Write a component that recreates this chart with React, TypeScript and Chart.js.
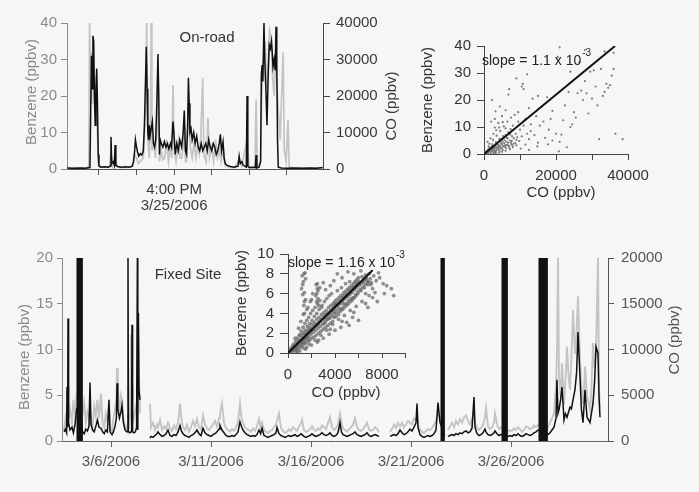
import React, { useEffect, useRef } from 'react';
import { Chart, registerables } from 'chart.js';
Chart.register(...registerables);

const FONT = '"Liberation Sans", Arial, Helvetica, sans-serif';
const BG = '#f6f6f6';
const GREY_TXT = '#8a8a8a';
const DARK_TXT = '#3a3a3a';
const BLACK_LINE = '#111111';
const GREY_LINE = '#c4c4c4';

// ---------------- On-road time series (minutes after 3:00 PM) ----------------
const roadBenzT = [31.5, 33, 35, 36.5, 37.6, 37.8, 38.0, 38.2, 38.4, 38.6, 38.8, 39.0, 39.2, 39.4, 39.6, 39.8, 40.0, 40.5, 41.5, 42.5, 43.0, 43.2, 43.4, 43.8, 44.1, 44.3, 44.5, 45.0, 46.0, 47.0, 48.0, 48.8, 49.2, 49.5, 49.7, 50.0, 50.3, 50.6, 51.0, 51.4, 51.8, 52.1, 52.4, 52.6, 52.8, 53.0, 53.2, 53.4, 53.6, 53.9, 54.2, 54.5, 54.8, 55.1, 55.4, 55.7, 55.9, 56.1, 56.3, 56.6, 57.0, 57.4, 57.8, 58.2, 58.6, 59.0, 59.3, 59.7, 60.0, 60.3, 60.7, 61.1, 61.5, 62.0, 62.4, 62.7, 63.0, 63.3, 63.6, 63.8, 64.0, 64.2, 64.5, 64.8, 65.2, 65.6, 66.0, 66.4, 66.8, 67.2, 67.6, 68.0, 68.4, 68.8, 69.2, 69.6, 70.0, 70.4, 70.8, 71.2, 71.6, 72.0, 72.3, 72.6, 73.0, 73.3, 73.6, 74.1, 75.0, 76.0, 77.0, 77.3, 77.6, 78.0, 78.4, 79.2, 79.4, 79.6, 80.0, 81.0, 81.6, 81.8, 82.0, 82.6, 83.0, 83.2, 83.4, 83.6, 83.9, 84.1, 84.4, 84.7, 85.0, 85.3, 85.6, 85.9, 86.1, 86.3, 86.6, 86.9, 87.1, 87.3, 87.5, 87.7, 88.5, 90, 92, 94, 96, 98, 99.5];
const roadBenz = [0.3, 0.2, 0.3, 0.2, 0.4, 15, 31, 22, 36.5, 35, 20, 12, 22, 27.5, 18, 4, 0.8, 0.5, 0.6, 0.5, 0.8, 8.8, 1.5, 2.0, 1.0, 6.6, 1.0, 0.7, 0.5, 0.6, 0.5, 0.7, 2.0, 5.0, 8.0, 6.0, 4.5, 3.5, 4.2, 3.8, 5.0, 12, 25, 33.5, 22, 10, 8, 12, 9, 11, 13, 7, 6, 8, 18, 31.5, 20, 4, 8, 7, 6, 7.5, 6, 7, 5.5, 7, 6, 13, 9, 4, 7, 5, 8, 6, 10, 16, 5, 4, 12, 25, 18, 10, 11, 8, 10, 7, 9, 6, 5, 7, 5, 6, 7, 5, 8, 6, 5, 7, 6, 4, 5, 7, 9.5, 5, 7.5, 3, 1.5, 1.0, 0.7, 0.5, 0.8, 3.5, 1.5, 2.0, 1.0, 0.5, 20, 0.8, 0.4, 0.5, 0.4, 3.8, 0.3, 0.5, 2.0, 26, 28.5, 24, 40, 30, 22, 12, 25, 34, 33, 35, 32, 28, 30, 27, 39, 29, 8, 0.5, 0.3, 0.2, 0.3, 0.2, 0.3, 0.2, 0.4];
const roadCOT = [31.5, 36.5, 37.3, 37.5, 37.7, 37.9, 38.1, 38.4, 38.7, 39.0, 39.3, 39.6, 39.9, 41, 42.8, 43.2, 43.6, 44.3, 44.7, 46, 48, 49, 49.5, 50, 50.5, 51, 51.8, 52.3, 52.7, 53.0, 53.4, 53.7, 53.9, 54.1, 54.5, 55.0, 55.5, 55.8, 56.1, 56.6, 57.0, 57.5, 58.0, 58.5, 59.0, 59.4, 59.7, 60.0, 60.5, 61.2, 61.6, 62.0, 62.4, 62.7, 63.0, 63.3, 63.8, 64.3, 64.8, 65.3, 65.8, 66.2, 66.7, 67.1, 67.6, 67.9, 68.5, 69.0, 69.4, 70.0, 70.5, 71.0, 71.5, 72.0, 72.5, 73.0, 73.5, 74.5, 76, 77.3, 78, 79.4, 80, 81.5, 81.8, 82.1, 83, 83.3, 83.8, 84.2, 84.6, 85.0, 85.4, 85.8, 86.2, 86.6, 87.0, 87.4, 87.8, 88.2, 89.0, 89.3, 89.8, 90.3, 90.6, 92, 95, 99.5];
const roadCO = [200, 300, 500, 40000, 30000, 18000, 32000, 30000, 20000, 15000, 25000, 10000, 1000, 500, 600, 5000, 800, 4000, 600, 400, 500, 800, 4000, 3000, 1500, 2000, 3000, 15000, 40000, 8000, 3000, 15000, 40000, 5000, 8000, 3000, 12000, 25000, 2000, 5000, 2500, 3000, 8000, 2000, 6000, 3000, 23000, 5000, 2000, 8000, 3000, 3000, 6000, 12000, 2000, 2000, 18000, 6000, 3000, 7000, 3000, 6000, 4000, 9000, 25000, 4000, 2000, 14000, 3000, 6000, 2000, 8000, 3000, 5000, 2000, 6000, 1000, 500, 300, 2500, 800, 8000, 300, 400, 19000, 400, 2000, 20000, 30000, 35000, 22000, 30000, 38000, 36000, 25000, 20000, 33000, 22000, 15000, 8000, 32000, 5000, 2000, 13500, 500, 300, 200, 300];
const roadTickValues = [40, 50, 60, 70, 80, 90];
const roadTickLabels: (string | string[])[] = ['', '', ['4:00 PM', '3/25/2006'], '', '', ''];

// ---------------- On-road scatter (CO ppbv, benzene ppbv) ----------------
const roadScatter: [number, number][] = [
  [200, 0.3], [400, 0.8], [600, 0.5], [800, 1.2], [1000, 0.6], [1200, 1.5], [1400, 0.9], [1600, 2.1], [1800, 1.1], [2000, 2.6],
  [2200, 1.4], [2400, 3.0], [2600, 1.8], [2800, 0.7], [3000, 2.2], [3200, 3.5], [3400, 1.2], [3600, 4.1], [3800, 2.5], [4000, 1.6],
  [4200, 4.8], [4400, 3.1], [4600, 2.0], [4800, 5.5], [5000, 3.6], [5200, 1.5], [5400, 6.2], [5600, 4.0], [5800, 2.7], [6000, 7.0],
  [6200, 4.5], [6400, 3.2], [6600, 5.8], [6800, 8.0], [7000, 2.4], [7200, 5.0], [7400, 9.2], [7600, 3.6], [7800, 6.5], [8000, 10.5],
  [1500, 3.8], [2500, 5.2], [3500, 6.8], [4500, 8.5], [5500, 10.2], [6500, 12.0], [7500, 13.5], [8500, 14.5], [9500, 15.5], [3000, 9.8],
  [4000, 11.5], [5000, 14.0], [6000, 16.2], [3200, 15.8], [4400, 17.6], [2200, 20.0], [6800, 22.0], [7000, 24.0], [9000, 28.0], [10500, 25.0],
  [11000, 24.0], [10800, 26.0], [12000, 29.5], [13500, 20.5], [15000, 21.5], [16000, 17.5], [17500, 21.0], [12500, 17.0], [11500, 13.0], [9500, 12.0],
  [8800, 7.5], [9800, 4.8], [10500, 6.5], [11500, 3.5], [12500, 5.5], [13000, 8.5], [14000, 7.0], [15000, 4.2], [15500, 10.5], [16500, 12.0],
  [17000, 6.0], [18000, 9.0], [19000, 5.0], [20000, 7.5], [21000, 4.5], [21500, 7.2], [22000, 12.5], [22500, 18.0], [23500, 23.0], [24000, 10.0],
  [24500, 11.0], [25000, 15.5], [26000, 22.5], [27000, 23.5], [27500, 20.0], [28000, 27.0], [28500, 22.5], [29000, 15.0], [29500, 30.5], [30000, 20.5],
  [31000, 25.0], [31500, 18.0], [32000, 5.5], [33000, 21.5], [33500, 23.0], [34000, 26.0], [34500, 24.5], [35000, 25.5], [35500, 29.0], [36000, 31.5],
  [36500, 7.5], [38500, 5.5], [30500, 31.0], [32500, 31.5], [20500, 36.0], [21000, 39.5], [24000, 30.5], [26500, 34.0], [28000, 38.5], [33500, 38.0],
  [36000, 37.5], [19000, 16.0], [18500, 13.0], [14500, 14.0], [13000, 11.0], [10000, 9.0], [11000, 10.5], [12000, 7.5], [9000, 3.2], [8000, 2.5],
  [7200, 1.8], [6000, 1.2], [5000, 0.8], [4200, 0.5], [3300, 0.4], [2700, 0.3], [1900, 0.2], [900, 0.1], [12500, 1.5], [10200, 2.0],
  [14800, 2.8], [17800, 3.6], [20800, 1.0], [23000, 2.5], [25500, 13.5], [300, 0.6], [700, 1.0], [1100, 0.4], [1300, 2.0], [1700, 0.8],
  [2100, 1.9], [2300, 0.9], [2700, 2.6], [2900, 1.5], [3100, 0.9], [3300, 2.8], [3700, 1.9], [3900, 3.4], [4100, 2.7], [4300, 1.1],
  [4700, 3.9], [4900, 2.3], [5100, 4.6], [5300, 2.9], [5700, 5.1], [5900, 3.3], [6100, 2.1], [6300, 6.0], [6700, 4.2], [6900, 3.0],
  [7300, 7.2], [7700, 4.8], [7900, 3.1], [8300, 5.8], [8700, 4.0], [9200, 6.2], [1000, 4.5], [1800, 5.8], [2600, 7.5], [3400, 8.8],
  [4200, 9.8], [2000, 12.0], [3000, 13.0], [5200, 11.8], [6000, 9.5], [500, 0.4], [1500, 1.0], [2500, 1.6], [3500, 2.0], [4500, 2.4],
  [5500, 2.8], [6500, 3.4], [7500, 4.2], [8200, 3.8], [9000, 5.2], [1300, 2.8], [2300, 3.6], [3300, 4.4], [4300, 5.6], [5300, 6.6]
];
const roadFitCO = [0, 36400];
const roadFitBenz = [0, 40];
const roadScatXTicks = [0, 10000, 20000, 30000, 40000];
const roadScatXLabels = ['0', '', '20000', '', '40000'];
const roadScatYTicks = [0, 10, 20, 30, 40];

// ---------------- Fixed site time series (day of March 2006) ----------------
const fixDay = [3.65, 3.72, 3.78, 3.80, 3.83, 3.85, 3.88, 3.95, 4.05, 4.12, 4.20, 4.28, 4.42, 4.58, 4.66, 4.74, 4.82, 4.90, 4.95, 5.00, 5.08, 5.16, 5.24, 5.32, 5.40, 5.50, 5.58, 5.66, 5.74, 5.82, 5.90, 5.95, 6.05, 6.12, 6.20, 6.27, 6.30, 6.34, 6.42, 6.50, 6.55, 6.62, 6.70, 6.78, 6.84, 6.85, 6.87, 6.95, 7.00, 7.03, 7.05, 7.08, 7.15, 7.22, 7.28, 7.32, 7.34, 7.37, 7.40, 7.45, 7.70,
  7.95, 8.00, 8.10, 8.20, 8.30, 8.35, 8.45, 8.55, 8.65, 8.75, 8.85, 8.95, 9.05, 9.15, 9.25, 9.35, 9.45, 9.52, 9.60, 9.70, 9.80, 9.90, 10.00, 10.10, 10.20, 10.30, 10.40, 10.50, 10.60, 10.70, 10.80, 10.90, 11.00, 11.10, 11.20, 11.30, 11.40, 11.45, 11.55, 11.65, 11.75, 11.85, 11.95, 12.05, 12.15, 12.25, 12.35, 12.45, 12.52, 12.60, 12.70, 12.80, 12.90, 13.00, 13.10, 13.20, 13.30, 13.40, 13.48, 13.55, 13.65, 13.75, 13.85, 13.95, 14.05, 14.15, 14.25, 14.30, 14.40, 14.50, 14.60, 14.70, 14.80, 14.90, 15.00, 15.10, 15.20, 15.30, 15.40, 15.50, 15.55, 15.65, 15.75, 15.85, 15.95, 16.05, 16.15, 16.25, 16.35, 16.45, 16.55, 16.65, 16.75, 16.85, 16.95, 17.05, 17.15, 17.25, 17.35, 17.45, 17.52, 17.60, 17.70, 17.80, 17.90, 18.00, 18.10, 18.20, 18.30, 18.40, 18.50, 18.60, 18.70, 18.80, 18.90, 19.00, 19.10, 19.20, 19.30, 19.40, 19.70,
  19.95, 20.05, 20.15, 20.25, 20.35, 20.45, 20.55, 20.65, 20.75, 20.85, 20.95, 21.05, 21.15, 21.25, 21.30, 21.35, 21.45, 21.55, 21.65, 21.75, 21.85, 21.95, 22.05, 22.15, 22.25, 22.35, 22.45, 22.68, 22.77,
  22.85, 22.95, 23.05, 23.15, 23.25, 23.35, 23.45, 23.55, 23.65, 23.75, 23.85, 23.95, 24.05, 24.15, 24.20, 24.30, 24.40, 24.50, 24.60, 24.70, 24.75, 24.85, 24.95, 25.05, 25.15, 25.20, 25.30, 25.40, 25.50, 25.85, 25.95, 26.05, 26.15, 26.25, 26.35, 26.45, 26.55, 26.65, 26.75, 26.85, 26.95, 27.05, 27.15, 27.25, 27.35,
  27.85, 27.95, 28.05, 28.15, 28.25, 28.30, 28.35, 28.40, 28.48, 28.55, 28.65, 28.72, 28.80, 28.88, 28.95, 29.02, 29.10, 29.20, 29.28, 29.35, 29.45, 29.52, 29.60, 29.65, 29.70, 29.80, 29.88, 29.95, 30.02, 30.10, 30.18, 30.25, 30.35, 30.40, 30.45];
const fixBenz = [1.0, 1.3, 0.9, 5.9, 1.5, 13.4, 2.0, 1.2, 1.5, 0.9, 1.8, 3.5, 4.0, 1.0, 0.8, 1.3, 1.1, 1.6, 6.4, 1.8, 1.2, 1.0, 1.6, 2.3, 1.5, 1.4, 1.0, 0.8, 1.2, 1.0, 4.5, 1.0, 0.7, 1.0, 1.6, 2.5, 6.3, 3.5, 2.5, 3.2, 3.9, 2.0, 1.2, 1.0, 1.0, 20, 1.0, 0.9, 1.0, 1.1, 12.7, 1.0, 0.9, 1.0, 1.5, 20, 1.2, 14.0, 5.5, 4.5, null,
  0.3, 0.5, 0.4, 0.6, 0.8, 1.0, 0.7, 0.5, 0.6, 0.8, 1.2, 0.6, 0.5, 0.7, 0.6, 1.0, 1.7, 1.1, 0.8, 0.6, 0.5, 0.4, 0.6, 0.7, 0.9, 1.2, 0.8, 0.6, 1.4, 0.9, 0.7, 0.6, 0.5, 0.7, 0.8, 1.0, 1.3, 1.7, 1.2, 0.9, 0.6, 0.5, 0.5, 0.6, 0.5, 0.7, 1.0, 2.1, 1.6, 1.2, 0.9, 0.7, 0.6, 0.5, 0.6, 0.5, 0.7, 1.2, 0.8, 1.4, 0.6, 0.5, 0.4, 0.5, 0.6, 0.7, 0.9, 1.5, 0.8, 0.6, 0.5, 0.4, 0.5, 0.6, 0.5, 0.6, 0.7, 0.5, 0.6, 0.8, 0.7, 0.5, 0.4, 0.5, 0.6, 0.8, 0.6, 0.5, 0.6, 0.7, 0.9, 0.7, 0.6, 0.7, 0.9, 0.6, 0.5, 0.6, 0.9, 2.0, 1.0, 0.7, 0.6, 0.5, 0.6, 0.7, 0.8, 1.0, 0.7, 0.6, 0.5, 0.6, 0.7, 0.9, 0.6, 0.5, 0.6, 0.7, 0.6, 0.5, null,
  0.5, 0.6, 0.7, 0.6, 0.8, 1.2, 0.9, 0.7, 0.8, 1.0, 1.3, 1.1, 1.5, 2.0, 4.1, 1.5, 0.7, 0.5, 0.4, 0.5, 0.6, 0.5, 0.6, 0.8, 1.2, 4.2, 2.0, 0.6, null,
  0.5, 0.6, 0.7, 0.6, 0.8, 0.7, 0.9, 0.8, 1.0, 1.1, 0.9, 1.0, 1.4, 4.8, 1.5, 0.8, 0.6, 0.7, 0.9, 1.3, 1.0, 0.7, 0.6, 0.7, 0.9, 1.1, 0.8, 0.6, 0.7, 0.5, 0.6, 0.5, 0.7, 0.6, 0.8, 0.6, 0.5, 0.6, 0.8, 0.7, 0.6, 0.7, 0.9, 1.0, 1.2,
  0.7, 0.9, 1.2, 1.5, 2.5, 6.7, 3.0, 3.4, 4.5, 5.9, 2.3, 3.0, 2.6, 3.2, 3.7, 3.5, 4.5, 5.6, 7.5, 11.9, 7.0, 3.5, 2.0, 3.8, 5.6, 2.6, 2.3, 2.0, 3.0, 4.1, 6.5, 10.3, 9.6, 4.8, 2.6];
const fixCO = [1200, 2500, 1500, 3000, 2500, 6000, 2500, 3500, 2000, 4500, 3000, 5000, 4000, 3000, 4200, 2000, 3200, 2500, 3500, 2000, 1500, 3800, 2800, 4500, 2500, 5200, 2000, 1500, 3000, 2200, 4000, 1500, 1000, 2500, 3500, 4500, 8000, 6000, 3000, 5000, 4500, 2500, 1500, 1200, 2000, 3000, 1500, 2500, 11600, 3000, 6000, 2000, 2500, 3500, 4000, 5000, 6000, 11500, 7000, 3000, null,
  4100, 1500, 2000, 1200, 1800, 1500, 2300, 1200, 1600, 1300, 2000, 1400, 1100, 1700, 1300, 2000, 4100, 2400, 1500, 1200, 1800, 1000, 1500, 2200, 1600, 2400, 1500, 1300, 2800, 1800, 1400, 1200, 1500, 1800, 2200, 1600, 2500, 3000, 4100, 2000, 1400, 1200, 1000, 1300, 1100, 1500, 2000, 4100, 2600, 2000, 1500, 1300, 1200, 1000, 1400, 1100, 1600, 2400, 1500, 2000, 1200, 1000, 900, 1100, 1200, 1500, 1800, 2200, 3000, 1400, 1100, 900, 1000, 1300, 1100, 1500, 1300, 1100, 1600, 1900, 2300, 1200, 1000, 1100, 1300, 1600, 1200, 1100, 1400, 1200, 1700, 1500, 1300, 2000, 2600, 1500, 1200, 1400, 1800, 3000, 2000, 1400, 1200, 1000, 1300, 1500, 1800, 2500, 1500, 1200, 1100, 1300, 1600, 2000, 1300, 1100, 1200, 1500, 1300, 1000, null,
  1000, 1300, 1800, 1400, 2000, 1600, 2000, 1500, 1800, 2200, 2000, 1800, 2500, 2200, 2600, 1800, 1200, 1000, 900, 1100, 1300, 1200, 1400, 1800, 2200, 3000, 2500, 1000, null,
  1200, 1600, 2000, 1500, 2200, 1800, 2400, 2000, 2600, 2800, 2200, 1800, 2400, 3200, 2000, 1500, 1200, 1400, 1800, 2600, 3600, 1600, 1300, 1500, 2000, 3000, 1800, 1300, 1500, 1000, 1200, 1100, 1400, 1200, 1500, 1300, 1000, 1200, 1600, 1500, 1300, 1400, 1700, 1500, 1800,
  1500, 2000, 2500, 3000, 6000, 10000, 20000, 7000, 5000, 8500, 4000, 6500, 10300, 7000, 5600, 9000, 14300, 9500, 12000, 15800, 9000, 6000, 4100, 5500, 8100, 5000, 4200, 3400, 5500, 10700, 8000, 10000, 20000, 6000, 3500];
// periods where benzene is off scale (drawn as solid black bars)
const fixOffStart = [4.30, 22.50, 25.55, 27.40];
const fixOffEnd = [4.55, 22.65, 25.80, 27.80];
const fixTickValues = [6, 11, 16, 21, 26];
const fixTickLabels = ['3/6/2006', '3/11/2006', '3/16/2006', '3/21/2006', '3/26/2006'];

// ---------------- Fixed site scatter (inset) ----------------
const fixScatter: [number, number][] = [
  [180, 0.1], [220, 0.3], [260, 0.5], [300, 0.2], [350, 0.4], [390, 0.7], [420, 0.2], [470, 0.9], [510, 0.5], [560, 0.3],
  [600, 0.8], [640, 1.2], [680, 0.6], [720, 0.4], [760, 1.0], [800, 1.5], [840, 0.7], [880, 0.5], [920, 1.2], [960, 1.8],
  [1000, 0.9], [1040, 0.6], [1080, 1.4], [1120, 2.2], [1160, 1.1], [1200, 0.7], [1240, 1.6], [1280, 2.6], [1320, 1.3], [1360, 0.9],
  [1400, 1.9], [1440, 3.0], [1480, 1.5], [1520, 1.0], [1560, 2.1], [1600, 3.3], [1640, 1.7], [1680, 1.2], [1720, 2.4], [1760, 3.6],
  [1800, 2.0], [1840, 1.3], [1880, 2.6], [1920, 4.0], [1960, 2.2], [2000, 1.5], [2050, 2.9], [2100, 4.3], [2150, 2.4], [2200, 1.6],
  [2250, 3.1], [2300, 4.6], [2350, 2.7], [2400, 1.8], [2450, 3.4], [2500, 5.0], [2550, 2.9], [2600, 2.0], [2650, 3.6], [2700, 5.3],
  [2750, 3.2], [2800, 2.2], [2850, 3.9], [2900, 4.8], [2950, 3.4], [3000, 2.4], [3050, 4.1], [3100, 5.2], [3150, 3.6], [3200, 2.6],
  [3250, 4.3], [3300, 5.5], [3350, 3.9], [3400, 2.8], [3450, 4.6], [3500, 5.8], [3550, 4.1], [3600, 3.0], [3650, 4.8], [3700, 6.0],
  [3750, 4.3], [3800, 3.2], [3850, 5.0], [3900, 4.6], [3950, 3.6], [4000, 5.2], [4050, 4.8], [4100, 3.7], [4150, 5.4], [4200, 6.3],
  [4250, 4.9], [4300, 3.9], [4350, 5.6], [4400, 5.1], [4450, 4.2], [4500, 5.8], [4550, 6.6], [4600, 5.3], [4650, 4.4], [4700, 6.0],
  [4750, 5.5], [4800, 4.6], [4850, 6.2], [4900, 7.0], [4950, 5.7], [5000, 4.8], [5050, 6.4], [5100, 5.9], [5150, 5.0], [5200, 6.6],
  [5250, 7.2], [5300, 6.1], [5350, 5.2], [5400, 6.8], [5450, 6.3], [5500, 5.4], [5550, 7.0], [5600, 6.5], [5650, 5.6], [5700, 7.2],
  [5750, 6.7], [5800, 5.8], [5850, 7.4], [5900, 6.9], [5950, 6.0], [6000, 7.6], [6100, 7.0], [6200, 6.3], [6300, 7.7], [6400, 7.2],
  [6500, 6.6], [6600, 7.9], [6700, 7.4], [6800, 6.9], [6900, 8.0], [7000, 7.5], [7100, 7.1], [7300, 7.8], [7500, 7.3], [7700, 8.1],
  [8100, 7.0], [7400, 6.1], [6900, 5.8], [6300, 5.2], [5800, 4.7], [5300, 4.3], [4800, 3.8], [4300, 3.4], [3800, 2.9], [3300, 2.3],
  [2800, 1.8], [2300, 1.3], [1800, 0.9], [1300, 0.5], [800, 0.2], [1150, 6.5], [1200, 7.8], [1250, 5.9], [1300, 7.2], [1350, 4.8],
  [1400, 6.1], [1450, 8.1], [1500, 5.4], [2350, 5.8], [2400, 6.9], [2450, 5.2], [2500, 7.0], [2550, 6.3], [2600, 4.8], [1900, 5.2],
  [2100, 6.0], [2700, 6.6], [3000, 7.1], [3200, 6.4], [3600, 6.8], [3900, 7.3], [4200, 8.0], [4600, 7.6], [5100, 8.2], [5600, 8.0],
  [6200, 8.3], [6600, 6.0], [7200, 6.5], [7800, 7.6], [8400, 6.8], [5500, 3.6], [5000, 3.1], [4500, 2.6], [4000, 2.3], [3500, 1.9],
  [3000, 1.5], [2500, 1.1], [2000, 0.8], [1500, 0.4], [1000, 0.2], [600, 1.5], [900, 2.5], [1100, 3.2], [1400, 4.0], [1700, 4.6],
  [2000, 5.4], [700, 0.1], [1600, 0.6], [2600, 1.3], [3600, 2.4], [4600, 3.2], [5600, 4.1], [6600, 5.0],
  [1050, 1.8], [1250, 2.0], [1450, 2.3], [1650, 2.7], [1850, 3.0], [2050, 3.3], [2250, 3.7], [2450, 4.0], [2650, 4.4], [2850, 4.6],
  [3050, 3.0], [3250, 3.3], [3450, 3.6], [3650, 3.9], [3850, 4.2], [4050, 4.4], [4250, 4.7], [4450, 5.0], [4650, 5.2], [4850, 5.5],
  [5050, 5.7], [5250, 5.9], [5450, 6.1], [5650, 6.4], [5850, 6.6], [6050, 6.8], [6250, 7.0], [6450, 7.3], [6650, 7.6], [6850, 7.2],
  [1150, 0.9], [1350, 1.1], [1550, 1.4], [1750, 1.6], [1950, 1.9], [2150, 2.1], [2350, 2.3], [2550, 2.5], [2750, 2.7], [2950, 2.9],
  [3150, 3.1], [3350, 3.4], [3550, 3.5], [3750, 3.7], [3950, 4.0], [4150, 4.1], [4350, 4.4], [4550, 4.5], [4750, 4.9], [4950, 5.0],
  [5150, 5.3], [5350, 5.5], [5550, 5.6], [5750, 5.9], [5950, 6.2], [6150, 6.4], [6350, 6.6], [6550, 6.9], [6750, 7.1], [7050, 6.9],
  [620, 0.6], [820, 0.9], [1020, 1.2], [1220, 1.3], [1420, 1.6], [1620, 1.9], [1820, 2.2], [2020, 2.4], [2220, 2.7], [2420, 2.9],
  [2620, 3.1], [2820, 3.4], [3020, 3.7], [3220, 3.9], [3420, 4.0], [3620, 4.3], [3820, 4.5], [4020, 4.9], [4220, 5.0], [4420, 5.3],
  [4620, 5.6], [4820, 5.8], [5020, 6.0], [5220, 6.3], [5420, 6.5], [5620, 6.7], [5820, 7.0], [6020, 7.2], [1300, 3.9], [1600, 4.4],
  [1400, 5.2], [1250, 6.9], [1500, 7.5], [1350, 8.0], [2450, 6.0], [2550, 5.5], [2500, 6.5], [7600, 5.2], [8200, 6.0], [8800, 6.5],
  [9000, 5.8], [6800, 4.6], [7200, 5.6], [6000, 3.3], [5200, 2.8]
];
const fixFitCO = [0, 7200];
const fixFitBenz = [0, 8.35];
const fixScatXTicks = [0, 2000, 4000, 6000, 8000, 10000];
const fixScatXLabels = ['0', '', '4000', '', '8000', ''];
const fixScatYTicks = [0, 2, 4, 6, 8, 10];

// ---------------- helpers ----------------
type TextItem = { text: string; x: number; y: number; color: string; size?: number; rot?: boolean; align?: CanvasTextAlign; sup?: string };

function textPlugin(items: TextItem[]) {
  return {
    id: 'texts',
    afterDraw(chart: any) {
      const ctx = chart.ctx as CanvasRenderingContext2D;
      items.forEach((it) => {
        const size = it.size ?? 15;
        ctx.save();
        ctx.translate(it.x, it.y);
        if (it.rot) ctx.rotate(-Math.PI / 2);
        ctx.font = `${size}px ${FONT}`;
        ctx.fillStyle = it.color;
        ctx.textAlign = it.align ?? 'center';
        ctx.textBaseline = 'middle';
        ctx.fillText(it.text, 0, 0);
        if (it.sup) {
          const w = ctx.measureText(it.text).width;
          ctx.font = `${Math.round(size * 0.72)}px ${FONT}`;
          ctx.textAlign = 'left';
          ctx.fillText(it.sup, (it.align === 'left' ? w : w / 2) + 1, -size * 0.55);
        }
        ctx.restore();
      });
    },
  };
}

type AxisOpt = {
  position: 'left' | 'right' | 'bottom';
  min: number; max: number;
  ticks: number[]; labels?: (string | string[])[];
  color: string; lineColor: string;
  size: number; tl: number; pad: number; lineHeight?: number;
};

function axis(o: AxisOpt) {
  const horizontal = o.position === 'bottom';
  return {
    type: 'linear',
    position: o.position,
    min: o.min,
    max: o.max,
    afterBuildTicks: (s: any) => { s.ticks = o.ticks.map((v) => ({ value: v })); },
    afterFit: (s: any) => {
      if (horizontal) { s.height = o.size; s.paddingLeft = 0; s.paddingRight = 0; }
      else { s.width = o.size; s.paddingTop = 0; s.paddingBottom = 0; }
    },
    ticks: {
      color: o.color,
      font: { family: FONT, size: 15, lineHeight: o.lineHeight ?? 1.2 },
      padding: o.pad,
      autoSkip: false,
      maxRotation: 0,
      minRotation: 0,
      callback: (v: any, i: number) => (o.labels ? o.labels[i] : String(v)),
    },
    grid: { display: true, drawOnChartArea: false, drawTicks: true, tickLength: o.tl, color: o.lineColor, lineWidth: 1 },
    border: { display: true, color: o.lineColor, width: 1 },
  };
}

const baseOptions = (padding: any) => ({
  responsive: false,
  animation: false,
  events: [],
  layout: { padding, autoPadding: false },
  plugins: { legend: { display: false }, tooltip: { enabled: false } },
});

function ChartCanvas(props: { left: number; top: number; width: number; height: number; make: () => any }) {
  const ref = useRef<HTMLCanvasElement>(null);
  useEffect(() => {
    const chart = new Chart(ref.current as HTMLCanvasElement, props.make());
    return () => chart.destroy();
  }, []);
  return (
    <canvas
      ref={ref}
      width={props.width}
      height={props.height}
      style={{ position: 'absolute', left: props.left, top: props.top, width: props.width, height: props.height }}
    />
  );
}

// ---------------- chart configs ----------------
const makeRoadSeries = () => ({
  type: 'line',
  data: {
    datasets: [
      { data: roadBenzT.map((t, i) => ({ x: t, y: roadBenz[i] })), yAxisID: 'yB', borderColor: BLACK_LINE, borderWidth: 1.5, pointRadius: 0, tension: 0 },
      { data: roadCOT.map((t, i) => ({ x: t, y: roadCO[i] })), yAxisID: 'yC', borderColor: GREY_LINE, borderWidth: 1.7, pointRadius: 0, tension: 0 },
    ],
  },
  options: {
    ...baseOptions({ top: 23, left: 0, right: 0, bottom: 0 }),
    scales: {
      x: axis({ position: 'bottom', min: 31.5, max: 99.6, ticks: roadTickValues, labels: roadTickLabels, color: DARK_TXT, lineColor: '#555', size: 51, tl: 6, pad: 7, lineHeight: 1.07 }),
      yB: axis({ position: 'left', min: 0, max: 40, ticks: [0, 10, 20, 30, 40], color: GREY_TXT, lineColor: GREY_TXT, size: 67, tl: 6, pad: 4 }),
      yC: axis({ position: 'right', min: 0, max: 40000, ticks: [0, 10000, 20000, 30000, 40000], color: DARK_TXT, lineColor: '#444', size: 97, tl: 7, pad: 6 }),
    },
  },
  plugins: [textPlugin([
    { text: 'On-road', x: 207, y: 38, color: '#333' },
    { text: 'Benzene (ppbv)', x: 32, y: 92, color: GREY_TXT, rot: true },
    { text: 'CO (ppbv)', x: 392, y: 106, color: DARK_TXT, rot: true },
  ])],
});

const makeRoadScatter = () => ({
  type: 'scatter',
  data: {
    datasets: [
      { type: 'line', data: roadFitCO.map((c, i) => ({ x: c, y: roadFitBenz[i] })), borderColor: '#111', borderWidth: 2, pointRadius: 0, showLine: true },
      { data: roadScatter.map(([c, b]) => ({ x: c, y: b })), pointRadius: 1.1, backgroundColor: '#7a7a7a', borderWidth: 0, showLine: false },
    ],
  },
  options: {
    ...baseOptions({ top: 46, left: 0, right: 71, bottom: 0 }),
    scales: {
      x: axis({ position: 'bottom', min: 0, max: 40000, ticks: roadScatXTicks, labels: roadScatXLabels, color: '#333', lineColor: '#444', size: 66, tl: 6, pad: 7 }),
      y: axis({ position: 'left', min: 0, max: 40, ticks: roadScatYTicks, color: '#333', lineColor: '#444', size: 64, tl: 7, pad: 6 }),
    },
  },
  plugins: [textPlugin([
    { text: 'Benzene (ppbv)', x: 8, y: 100, color: '#333', rot: true },
    { text: 'CO (ppbv)', x: 141, y: 193, color: '#333' },
    { text: 'slope = 1.1 x 10', x: 62, y: 61, color: '#222', size: 14, align: 'left', sup: '-3' },
  ])],
});

const makeFixSeries = () => ({
  type: 'line',
  data: {
    datasets: [
      ...fixOffStart.map((s, i) => ({
        data: [{ x: s, y: 0 }, { x: s, y: 20 }, { x: fixOffEnd[i], y: 20 }, { x: fixOffEnd[i], y: 0 }],
        yAxisID: 'yB', borderColor: BLACK_LINE, backgroundColor: BLACK_LINE, borderWidth: 1, pointRadius: 0, fill: 'origin',
      })),
      { data: fixDay.map((d, i) => ({ x: d, y: fixBenz[i] })), yAxisID: 'yB', borderColor: BLACK_LINE, borderWidth: 1.5, pointRadius: 0, tension: 0, spanGaps: false },
      { data: fixDay.map((d, i) => ({ x: d, y: fixCO[i] })), yAxisID: 'yC', borderColor: GREY_LINE, borderWidth: 1.9, pointRadius: 0, tension: 0, spanGaps: false },
    ],
  },
  options: {
    ...baseOptions({ top: 28, left: 0, right: 0, bottom: 0 }),
    scales: {
      x: axis({ position: 'bottom', min: 3.55, max: 30.85, ticks: fixTickValues, labels: fixTickLabels, color: '#555', lineColor: '#666', size: 51, tl: 6, pad: 6 }),
      yB: axis({ position: 'left', min: 0, max: 20, ticks: [0, 5, 10, 15, 20], color: GREY_TXT, lineColor: GREY_TXT, size: 62, tl: 5, pad: 4 }),
      yC: axis({ position: 'right', min: 0, max: 20000, ticks: [0, 5000, 10000, 15000, 20000], color: '#555', lineColor: '#555', size: 91, tl: 6, pad: 7 }),
    },
  },
  plugins: [textPlugin([
    { text: 'Fixed Site', x: 188, y: 45, color: '#333' },
    { text: 'Benzene (ppbv)', x: 25, y: 127, color: GREY_TXT, rot: true },
    { text: 'CO (ppbv)', x: 675, y: 110, color: '#555', rot: true },
  ])],
});

const makeFixScatter = () => ({
  type: 'scatter',
  data: {
    datasets: [
      { type: 'line', data: fixFitCO.map((c, i) => ({ x: c, y: fixFitBenz[i] })), borderColor: '#111', borderWidth: 2, pointRadius: 0, showLine: true },
      { data: fixScatter.map(([c, b]) => ({ x: c, y: b })), pointRadius: 1.9, backgroundColor: 'rgba(100,100,100,0.7)', borderWidth: 0, showLine: false },
    ],
  },
  options: {
    ...baseOptions({ top: 14, left: 0, right: 24.5, bottom: 0 }),
    scales: {
      x: axis({ position: 'bottom', min: 0, max: 10000, ticks: fixScatXTicks, labels: fixScatXLabels, color: '#333', lineColor: '#444', size: 57, tl: 5, pad: 8 }),
      y: axis({ position: 'left', min: 0, max: 10, ticks: fixScatYTicks, color: '#333', lineColor: '#444', size: 58, tl: 8, pad: 6 }),
    },
  },
  plugins: [textPlugin([
    { text: 'Benzene (ppbv)', x: 12, y: 63, color: '#333', rot: true },
    { text: 'CO (ppbv)', x: 116, y: 153, color: '#333' },
    { text: 'slope = 1.16 x 10', x: 58, y: 23, color: '#222', size: 14, align: 'left', sup: '-3' },
  ])],
});

export default function App() {
  return (
    <div style={{ position: 'fixed', left: 0, top: 0, width: 699, height: 492, background: BG, overflow: 'hidden' }}>
      <ChartCanvas left={0} top={0} width={420} height={220} make={makeRoadSeries} />
      <ChartCanvas left={420} top={0} width={279} height={220} make={makeRoadScatter} />
      <ChartCanvas left={0} top={230} width={699} height={262} make={makeFixSeries} />
      <ChartCanvas left={230} top={240} width={200} height={170} make={makeFixScatter} />
    </div>
  );
}
